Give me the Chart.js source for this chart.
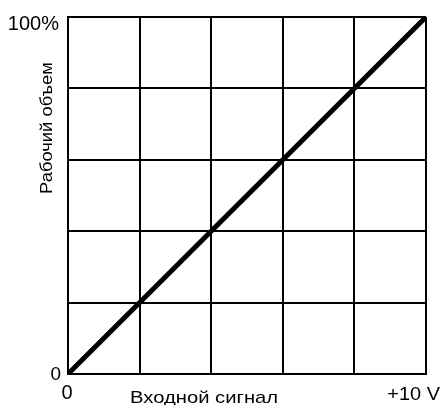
<!DOCTYPE html>
<html>
<head>
<meta charset="utf-8">
<script src="https://cdn.jsdelivr.net/npm/chart.js@4"></script>
<style>
  html, body { margin: 0; padding: 0; background: #fff; }
  #wrap { width: 441px; height: 405px; }
</style>
</head>
<body>
<div id="wrap"><canvas id="chart"></canvas></div>
<script>
// Data
const xValues = [0, 10];
const yValues = [0, 100];
const xTickLabels = ["0", "+10 V"];
const yTickLabels = ["0", "100%"];
const xTitle = "Входной сигнал";
const yTitle = "Рабочий объем";

// Draw slightly stretched text (the reference font is a bit wide)
function drawText(ctx, text, x, y, size, sx, align, angle) {
  ctx.save();
  ctx.translate(x, y);
  if (angle) ctx.rotate(angle);
  ctx.scale(sx, 1);
  ctx.font = size + "px 'Liberation Sans', Arial, sans-serif";
  ctx.fillStyle = "#000";
  ctx.textAlign = align;
  ctx.textBaseline = "alphabetic";
  ctx.fillText(text, 0, 0);
  ctx.restore();
}

const labelsPlugin = {
  id: "labels",
  afterDraw(chart) {
    const ctx = chart.ctx;
    const xs = chart.scales.x, ys = chart.scales.y;
    // y tick labels
    drawText(ctx, yTickLabels[0], xs.left - 7, ys.getPixelForValue(yValues[0]) + 6, 18, 1.05, "right");
    drawText(ctx, yTickLabels[1], xs.left - 9, ys.getPixelForValue(yValues[1]) + 13, 20, 1, "right");
    // x tick labels
    drawText(ctx, xTickLabels[0], xs.getPixelForValue(xValues[0]) - 1, ys.bottom + 25, 20, 1, "center");
    drawText(ctx, xTickLabels[1], xs.getPixelForValue(xValues[1]) + 14, ys.bottom + 26, 19, 1.05, "right");
    // axis titles
    drawText(ctx, xTitle, 130, 403, 17, 1.19, "left");
    drawText(ctx, yTitle, 52, 128, 17, 1.08, "center", -Math.PI / 2);
  }
};

new Chart(document.getElementById("chart"), {
  type: "line",
  data: {
    datasets: [{
      data: xValues.map((x, i) => ({ x: x, y: yValues[i] })),
      borderColor: "#000",
      borderWidth: 5,
      borderCapStyle: "round",
      pointRadius: 0,
      tension: 0
    }]
  },
  options: {
    responsive: true,
    maintainAspectRatio: false,
    animation: false,
    layout: { padding: { left: 68, top: 17, right: 15, bottom: 31 } },
    plugins: { legend: { display: false }, tooltip: { enabled: false } },
    scales: {
      x: {
        type: "linear",
        min: 0,
        max: 10,
        ticks: { stepSize: 2, display: false },
        grid: { color: "#000", lineWidth: 2, drawTicks: false },
        border: { color: "#000", width: 2 }
      },
      y: {
        min: 0,
        max: 100,
        ticks: { stepSize: 20, display: false },
        grid: { color: "#000", lineWidth: 2, drawTicks: false },
        border: { color: "#000", width: 2 }
      }
    }
  },
  plugins: [labelsPlugin]
});
</script>
</body>
</html>
